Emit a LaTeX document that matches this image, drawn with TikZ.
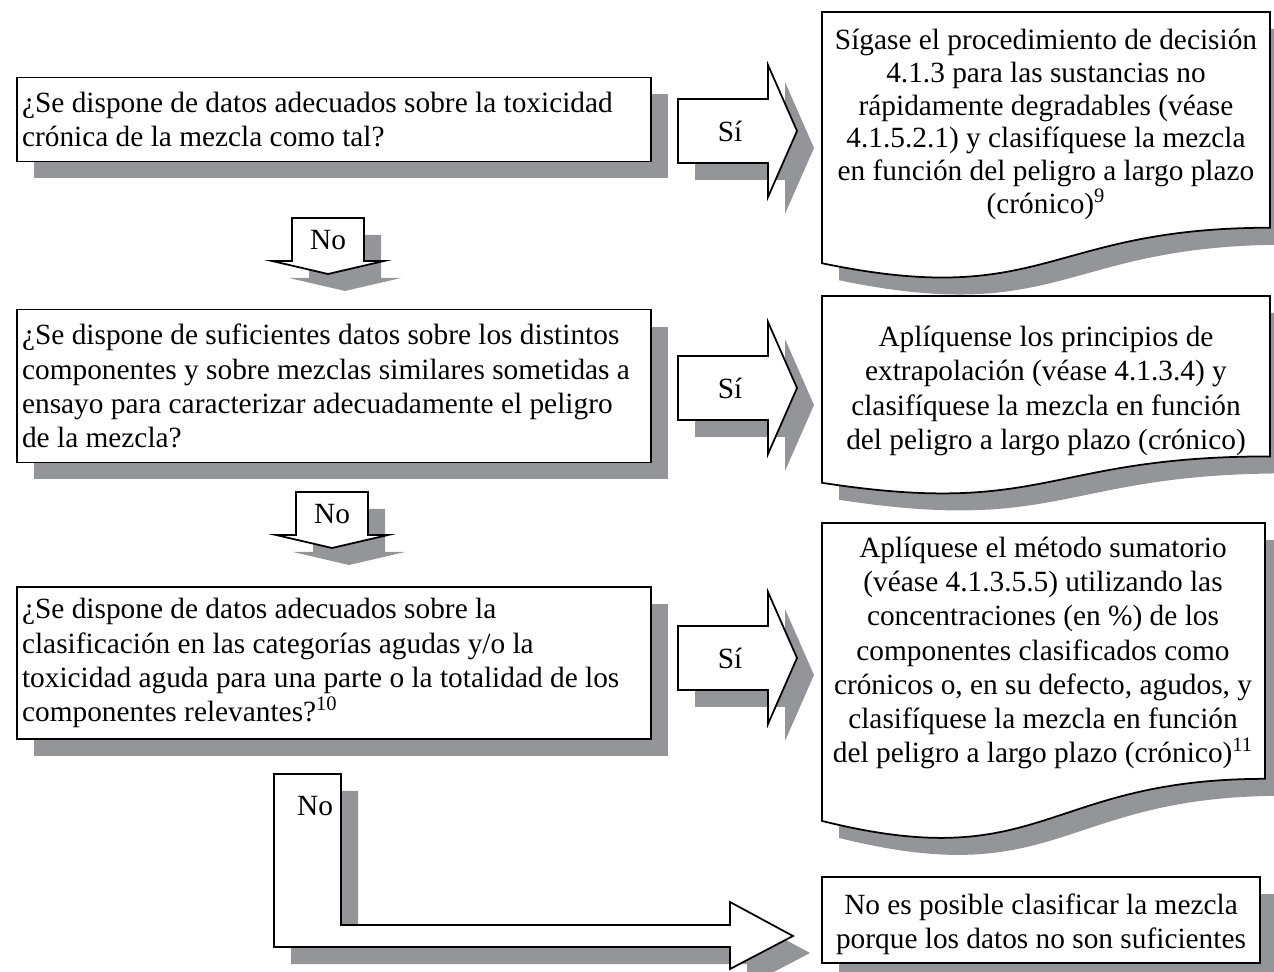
\documentclass[tikz,border=0pt]{standalone}
\usepackage{fontspec}
\setmainfont{Liberation Serif}
\usetikzlibrary{shadows}
\definecolor{shadowgray}{RGB}{147,149,152}

% x0, x1, top, height of a document shape
\newcommand{\docshape}[4]{%
\draw[docbox] (#1,#3) -- (#2,#3) -- (#2,{#3+0.802*#4}) .. controls ({(#1+#2)/2},{#3+0.802*#4}) and ({(#1+#2)/2},{#3+1.107*#4}) .. (#1,{#3+0.934*#4}) -- cycle;}

\tikzset{
  shd/.style={drop shadow={shadow xshift=0.34cm, shadow yshift=-0.34cm, fill=shadowgray, opacity=1}},
  txt/.style={font=\fontsize{16.7}{19.4}\selectfont},
  qbox/.style={txt, draw, fill=white, line width=1pt, shd, inner xsep=0.1cm, text width=12.48cm, minimum width=12.68cm, align=flush left},
  docbox/.style={draw, fill=white, line width=1pt, shd},
  arrowbox/.style={draw, fill=white, line width=1pt, shd, line join=miter},
  rtext/.style={txt, align=center, inner sep=0pt}
}

\begin{document}
\begin{tikzpicture}[x=0.02cm, y=-0.02cm]
\useasboundingbox (0,0) rectangle (1274,972);

% questions
\node[qbox, minimum height=1.68cm] (q1) at (334,119.5) {¿Se dispone de datos adecuados sobre la toxicidad\\crónica de la mezcla como tal?};
\node[qbox, minimum height=3.06cm] (q2) at (334,386) {¿Se dispone de suficientes datos sobre los distintos\\componentes y sobre mezclas similares sometidas a\\ensayo para caracterizar adecuadamente el peligro\\de la mezcla?};
\node[qbox, minimum height=3.04cm] (q3) at (334,663) {¿Se dispone de datos adecuados sobre la\\clasificación en las categorías agudas y/o la\\toxicidad aguda para una parte o la totalidad de los\\componentes relevantes?\textsuperscript{10}};

% Si arrows
\foreach \yc/\nm in {131/si1, 388/si2, 658/si3}{
  \draw[arrowbox] (678,{\yc-32}) -- (768,{\yc-32}) -- (768,{\yc-66}) -- (797,\yc) -- (768,{\yc+66}) -- (768,{\yc+32}) -- (678,{\yc+32}) -- cycle;
  \node[txt] (\nm) at (730,\yc) {Sí};
}

% No arrows
\foreach \xc/\yt/\nm in {328/218/no1, 332/492/no2}{
  \draw[arrowbox] ({\xc-36},\yt) -- ({\xc+36},\yt) -- ({\xc+36},{\yt+43}) -- ({\xc+56},{\yt+43}) -- (\xc,{\yt+56}) -- ({\xc-56},{\yt+43}) -- ({\xc-36},{\yt+43}) -- cycle;
  \node[txt] (\nm) at (\xc,{\yt+22}) {No};
}
\draw[arrowbox] (274,774) -- (341,774) -- (341,925) -- (730,925) -- (730,902) -- (793,936) -- (730,969) -- (730,947) -- (274,947) -- cycle;
\node[txt] (no3) at (315,806) {No};

% answers
\docshape{822}{1270}{12}{269}
\node[rtext, font=\fontsize{16.7}{18.6}\selectfont] (r1) at (1046,124.5) {Sígase el procedimiento de decisión\\4.1.3 para las sustancias no\\rápidamente degradables (véase\\4.1.5.2.1) y clasifíquese la mezcla\\en función del peligro a largo plazo\\(crónico)\textsuperscript{9}};
\docshape{822}{1270}{296}{200}
\node[rtext] (r2) at (1046,391) {Aplíquense los principios de\\extrapolación (véase 4.1.3.4) y\\clasifíquese la mezcla en función\\del peligro a largo plazo (crónico)};
\docshape{822}{1265}{523}{319}
\node[rtext] (r3) at (1043,653) {Aplíquese el método sumatorio\\(véase 4.1.3.5.5) utilizando las\\concentraciones (en \%) de los\\componentes clasificados como\\crónicos o, en su defecto, agudos, y\\clasifíquese la mezcla en función\\del peligro a largo plazo (crónico)\textsuperscript{11}};
\draw[docbox] (822,877) rectangle (1260,963);
\node[rtext] (r4) at (1041,924) {No es posible clasificar la mezcla\\porque los datos no son suficientes};

\end{tikzpicture}
\end{document}
